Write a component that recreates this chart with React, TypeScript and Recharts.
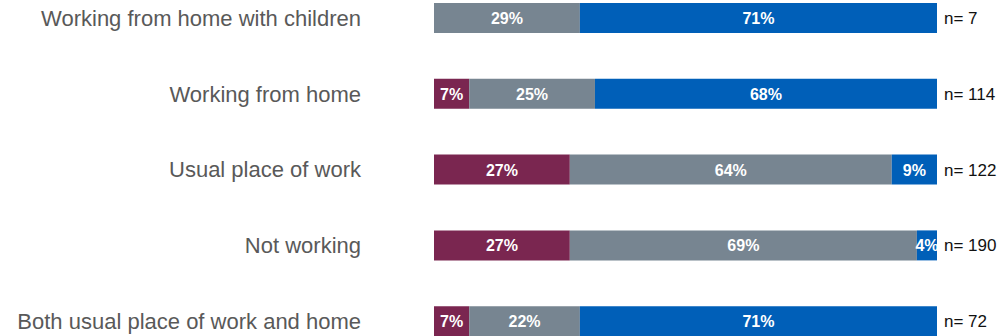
import React from 'react';
import { BarChart, Bar, XAxis, YAxis, LabelList } from 'recharts';

const categories = [
  'Working from home with children',
  'Working from home',
  'Usual place of work',
  'Not working',
  'Both usual place of work and home',
];
const maroonValues = [0, 7, 27, 27, 7];
const grayValues = [29, 25, 64, 69, 22];
const blueValues = [71, 68, 9, 4, 71];
const sampleSizes = [7, 114, 122, 190, 72];

const data = categories.map((name, i) => ({
  name,
  maroon: maroonValues[i],
  gray: grayValues[i],
  blue: blueValues[i],
  n: sampleSizes[i],
}));

function SegLabel(props: any) {
  const { x, y, width, height, value } = props;
  if (!value) return null;
  return (
    <text
      x={x + width / 2}
      y={y + height / 2}
      dy={6}
      fill="#ffffff"
      fontSize={16}
      fontWeight={700}
      textAnchor="middle"
    >
      {`${value}%`}
    </text>
  );
}

function NLabel(props: any) {
  const { x, y, width, height, value } = props;
  return (
    <text x={x + width + 7} y={y + height / 2} dy={6} fill="#111" fontSize={17} textAnchor="start">
      {`n= ${value}`}
    </text>
  );
}

export default function App() {
  return (
    <div style={{ position: 'absolute', left: 0, top: 0, width: 1004, height: 336, overflow: 'hidden', background: '#fff', fontFamily: '"Liberation Sans", Arial, sans-serif' }}>
      <div style={{ marginTop: -20 }}>
        <BarChart
          width={1004}
          height={379}
          data={data}
          layout="vertical"
          barSize={30}
          margin={{ top: 0, right: 67, bottom: 0, left: 0 }}
        >
          <XAxis type="number" domain={[0, 100]} hide />
          <YAxis
            type="category"
            dataKey="name"
            width={434}
            axisLine={false}
            tickLine={false}
            tickSize={0}
            tickMargin={73}
            tick={{ fill: '#595959', fontSize: 22 }}
          />
          <Bar dataKey="maroon" stackId="a" fill="#7A2650" isAnimationActive={false}>
            <LabelList dataKey="maroon" content={<SegLabel />} />
          </Bar>
          <Bar dataKey="gray" stackId="a" fill="#778591" isAnimationActive={false}>
            <LabelList dataKey="gray" content={<SegLabel />} />
          </Bar>
          <Bar dataKey="blue" stackId="a" fill="#005FB8" isAnimationActive={false}>
            <LabelList dataKey="blue" content={<SegLabel />} />
            <LabelList dataKey="n" content={<NLabel />} />
          </Bar>
        </BarChart>
      </div>
    </div>
  );
}
